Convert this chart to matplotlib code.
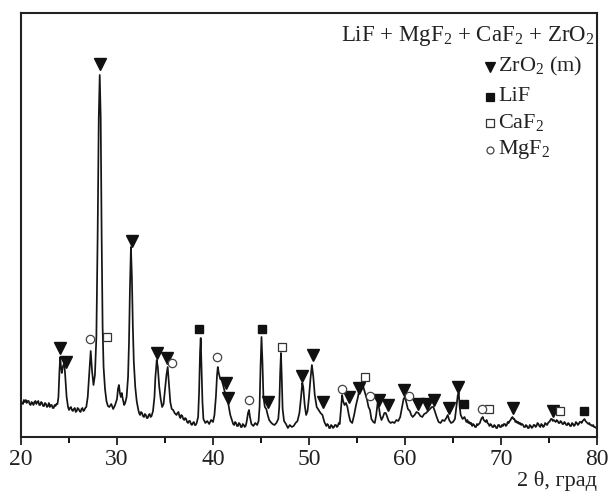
import numpy as np
import matplotlib
matplotlib.use("Agg")
import matplotlib.pyplot as plt

plt.rcParams['font.family'] = ['Liberation Serif', 'DejaVu Serif']
plt.rcParams['mathtext.fontset'] = 'custom'
plt.rcParams['mathtext.rm'] = 'Liberation Serif'
plt.rcParams['mathtext.it'] = 'Liberation Serif:italic'

# diffraction pattern, 2theta (deg) vs intensity (a.u.)
two_theta = [
    20.0, 20.1, 20.2, 20.3, 20.4, 20.5, 20.6, 20.7, 20.8, 20.9, 21.0, 21.1, 21.2,
    21.3, 21.4, 21.5, 21.6, 21.7, 21.8, 21.9, 22.0, 22.1, 22.2, 22.3, 22.4, 22.5,
    22.6, 22.7, 22.8, 22.9, 23.0, 23.1, 23.2, 23.3, 23.4, 23.5, 23.6, 23.7, 23.8,
    23.9, 24.0, 24.08, 24.15, 24.25, 24.35, 24.5, 24.6, 24.75, 24.9,
    25.0, 25.1, 25.2, 25.3, 25.4, 25.5, 25.6, 25.7, 25.8, 25.9, 26.0, 26.1, 26.2,
    26.3, 26.4, 26.5, 26.6, 26.7, 26.8,
    26.95, 27.1, 27.26, 27.4, 27.55, 27.7, 27.85, 27.98, 28.1, 28.2, 28.3, 28.4, 28.5, 28.6,
    28.75, 28.9, 29.05,
    29.2, 29.4, 29.6, 29.8, 30.0, 30.1, 30.2, 30.3, 30.4, 30.5, 30.6, 30.75, 30.85,
    31.0, 31.15, 31.25, 31.35, 31.45, 31.55, 31.65, 31.75, 31.9, 32.05,
    32.2, 32.3, 32.4, 32.5, 32.6, 32.7, 32.8, 32.9, 33.0, 33.1, 33.2, 33.3, 33.4, 33.5, 33.6,
    33.75, 33.9, 34.0, 34.14, 34.25, 34.4, 34.55, 34.7, 34.85, 35.0, 35.15, 35.28, 35.4,
    35.55, 35.7, 35.85,
    36.0, 36.1, 36.2, 36.3, 36.4, 36.5, 36.6, 36.7, 36.8, 36.9, 37.0, 37.1, 37.2,
    37.3, 37.4, 37.5, 37.6, 37.7, 37.8, 37.9, 38.0, 38.1, 38.2, 38.3,
    38.45, 38.55, 38.65, 38.72, 38.8, 38.9, 39.0, 39.2, 39.4, 39.6, 39.8, 40.0, 40.15,
    40.3, 40.42, 40.5, 40.6, 40.75, 40.9, 41.05, 41.2, 41.35, 41.5, 41.65, 41.8,
    42.0, 42.1, 42.2, 42.3, 42.4, 42.5, 42.6, 42.7, 42.8, 42.9, 43.0, 43.1, 43.2,
    43.3, 43.4, 43.5,
    43.65, 43.75, 43.85, 44.0, 44.2, 44.4, 44.6, 44.75, 44.85,
    44.95, 45.05, 45.15, 45.25, 45.4, 45.55, 45.7, 45.85, 46.0, 46.2, 46.4, 46.6, 46.8,
    46.9, 47.0, 47.08, 47.16, 47.25, 47.4, 47.6, 47.8, 48.0, 48.2, 48.4, 48.6, 48.8, 49.0,
    49.15, 49.3, 49.4, 49.55, 49.7, 49.85, 50.0, 50.15, 50.3, 50.45, 50.6, 50.8, 51.0,
    51.2, 51.4,
    51.6, 51.7, 51.8, 51.9, 52.0, 52.1, 52.2, 52.3, 52.4, 52.5, 52.6, 52.7, 52.8,
    52.9, 53.0, 53.1, 53.2,
    53.35, 53.45, 53.55, 53.7, 53.85, 54.0, 54.15, 54.3, 54.5, 54.7, 54.9, 55.1, 55.3,
    55.45, 55.6, 55.75, 55.9, 56.05, 56.2, 56.35, 56.5, 56.7, 56.85, 57.0, 57.15, 57.25,
    57.4, 57.55, 57.7, 57.85, 58.0, 58.15, 58.3, 58.5, 58.7, 58.9, 59.1, 59.3, 59.5,
    59.7, 59.85, 60.0, 60.15, 60.3, 60.5, 60.65, 60.8, 61.0, 61.2, 61.4, 61.6, 61.8,
    62.0, 62.2, 62.4, 62.6, 62.8, 62.95, 63.1, 63.3, 63.5, 63.7, 63.9, 64.1, 64.3, 64.45,
    64.6, 64.8, 65.0, 65.2, 65.35, 65.5, 65.6, 65.7, 65.8, 66.0, 66.2,
    66.4, 66.5, 66.6, 66.7, 66.8, 66.9, 67.0, 67.1, 67.2, 67.3, 67.4, 67.5, 67.6,
    67.7, 67.8, 67.9, 68.0, 68.1, 68.2, 68.3, 68.4, 68.5, 68.6, 68.7, 68.8, 68.9,
    69.0, 69.1, 69.2, 69.3, 69.4, 69.5, 69.6, 69.7, 69.8, 69.9, 70.0, 70.1, 70.2,
    70.3, 70.4, 70.5, 70.6, 70.7, 70.8, 70.9, 71.0, 71.1, 71.2, 71.3, 71.4, 71.5,
    71.6, 71.7, 71.8, 71.9, 72.0, 72.1, 72.2, 72.3, 72.4, 72.5, 72.6, 72.7, 72.8,
    72.9, 73.0, 73.1, 73.2, 73.3, 73.4, 73.5, 73.6, 73.7, 73.8, 73.9, 74.0, 74.1,
    74.2, 74.3, 74.4, 74.5, 74.6, 74.7, 74.8, 74.9, 75.0, 75.1, 75.2, 75.3, 75.4,
    75.5, 75.6, 75.7, 75.8, 75.9, 76.0, 76.1, 76.2, 76.3, 76.4, 76.5, 76.6, 76.7,
    76.8, 76.9, 77.0, 77.1, 77.2, 77.3, 77.4, 77.5, 77.6, 77.7, 77.8, 77.9, 78.0,
    78.1, 78.2, 78.3, 78.4, 78.5, 78.6, 78.7, 78.8, 78.9, 79.0, 79.1, 79.2, 79.3,
    79.4, 79.5, 79.6, 79.7, 79.8, 79.9, 80.0,
]
intensity = [
    36, 34, 33, 37, 35, 37, 34, 36, 36, 33, 32, 35, 34,
    32, 35, 36, 33, 35, 36, 32, 32, 35, 34, 31, 31, 34,
    33, 30, 31, 34, 30, 32, 32, 29, 29, 32, 31, 33, 33,
    40, 65, 80, 72, 64, 70, 74, 62, 40, 30,
    27, 29, 30, 27, 26, 28, 29, 25, 26, 29, 28, 26, 25,
    28, 29, 26, 27, 29, 30,
    40, 62, 86, 66, 52, 62, 100, 200, 320, 362, 320, 200, 110, 70,
    48, 36, 31,
    30, 33, 28, 32, 38, 48, 52, 44, 40, 44, 38, 32, 34,
    40, 60, 95, 150, 190, 160, 110, 75, 50, 36,
    28, 24, 22, 25, 24, 21, 20, 23, 22, 19, 19, 22, 23, 20, 21,
    26, 40, 60, 77, 70, 50, 38, 30, 33, 48, 62, 70, 55,
    35, 28, 27,
    24, 23, 22, 24, 25, 21, 19, 22, 21, 18, 17, 19, 18,
    15, 14, 16, 16, 13, 12, 14, 15, 12, 12, 14,
    20, 45, 85, 99, 70, 35, 18, 14, 16, 13, 17, 15, 22,
    40, 62, 70, 64, 58, 57, 52, 46, 42, 40, 30, 22,
    16, 13, 12, 15, 14, 11, 11, 14, 13, 10, 10, 13, 12,
    10, 11, 15,
    24, 27, 20, 13, 11, 14, 12, 16, 30,
    70, 100, 75, 40, 30, 28, 22, 17, 15, 13, 12, 14, 18,
    30, 65, 84, 60, 28, 16, 13, 9, 12, 10, 11, 14, 16, 24,
    38, 54, 50, 32, 22, 26, 40, 58, 72, 60, 42, 30, 27,
    24, 22,
    15, 13, 11, 13, 12, 9, 9, 12, 11, 9, 10, 12, 12,
    10, 11, 14, 13,
    30, 42, 36, 32, 34, 30, 22, 16, 14, 22, 32, 40, 52,
    50, 52, 47, 42, 37, 30, 27, 18, 15, 14, 22, 34, 32,
    22, 17, 20, 24, 24, 20, 16, 14, 15, 14, 17, 16, 20,
    30, 38, 40, 34, 28, 26, 22, 20, 22, 25, 24, 21, 20,
    23, 24, 26, 28, 30, 30, 26, 20, 15, 14, 17, 16, 19, 22,
    17, 14, 15, 18, 30, 42, 44, 30, 22, 18, 20,
    15, 17, 14, 15, 13, 14, 11, 13, 12, 10, 10, 13, 12,
    13, 14, 17, 19, 20, 17, 16, 15, 17, 14, 13, 11, 13,
    12, 10, 10, 12, 11, 9, 9, 12, 12, 10, 10, 12, 11,
    13, 13, 11, 12, 15, 14, 16, 17, 19, 20, 18, 18, 15,
    16, 14, 15, 13, 14, 12, 13, 12, 10, 10, 12, 11, 9,
    9, 12, 11, 9, 10, 12, 12, 10, 11, 14, 13, 11, 10,
    13, 12, 10, 11, 14, 13, 12, 14, 15, 16, 18, 18, 16,
    17, 16, 15, 17, 16, 14, 14, 16, 15, 13, 13, 15, 14,
    12, 12, 14, 13, 11, 11, 14, 13, 11, 12, 15, 14, 12,
    13, 15, 15, 14, 16, 17, 18, 16, 15, 14, 13, 14, 12,
    12, 11, 12, 10, 10, 9, 9,
]

# phase reflections: angle and marker height
zro2_pos = [24.06, 24.69, 28.23, 31.56, 34.14, 35.18, 41.32, 41.6, 45.7, 49.24, 50.45,
            51.43, 54.2, 55.24, 57.29, 58.2, 59.9, 61.39, 62.26, 63.02, 64.6, 65.55,
            71.22, 75.45]
zro2_h = [89, 75, 373, 196, 84, 79, 54, 39, 35, 61, 82,
          35, 40, 49, 37, 32, 47, 33, 33, 37, 29, 50,
          29, 26]
lif_pos = [38.54, 45.07, 66.15, 78.68]
lif_h = [108, 108, 33, 26]
caf2_pos = [28.93, 47.16, 55.88, 68.75, 76.15]
caf2_h = [100, 90, 60, 28, 26]
mgf2_pos = [27.19, 35.76, 40.42, 43.75, 53.47, 56.35, 60.45, 68.0]
mgf2_h = [98, 74, 80, 37, 48, 41, 41, 28]

fig = plt.figure(figsize=(6.09, 4.93), dpi=100)
ax = fig.add_axes([0.0345, 0.1136, 0.9458, 0.86])

ax.plot(two_theta, intensity, color='#151515', lw=1.25)

ax.plot(zro2_pos, zro2_h, 'v', color='#111111', ms=8, ls='none')
ax.plot(lif_pos, lif_h, 's', color='#111111', ms=5.5, ls='none')
ax.plot(caf2_pos, caf2_h, 's', mfc='white', mec='#333333', mew=0.9, ms=5.5, ls='none')
ax.plot(mgf2_pos, mgf2_h, 'o', mfc='white', mec='#444444', mew=0.9, ms=6, ls='none')

ax.set_xlim(20, 80)
ax.set_ylim(0, 424)
ax.set_xticks([20, 30, 40, 50, 60, 70, 80])
ax.set_xticks([25, 35, 45, 55, 65, 75], minor=True)
ax.set_yticks([])
ax.tick_params(axis='x', which='major', direction='out', length=6, width=1.3,
               labelsize=17, pad=3, colors='#222222')
ax.tick_params(axis='x', which='minor', direction='out', length=4, width=1.3)
for s in ax.spines.values():
    s.set_linewidth(1.5)
    s.set_color('#222222')

ax.text(0.995, 0.975, r'LiF + MgF$_2$ + CaF$_2$ + ZrO$_2$', transform=ax.transAxes,
        ha='right', va='top', fontsize=16.5, color='#222222')

# phase key
key = [('v', '#111111', '#111111', 7, r'ZrO$_2$ (m)', 0.873),
       ('s', '#111111', '#111111', 5.5, 'LiF', 0.802),
       ('s', 'white', '#333333', 5.5, r'CaF$_2$', 0.741),
       ('o', 'white', '#444444', 5, r'MgF$_2$', 0.677)]
for mk, fc, ec, ms, label, y in key:
    ax.plot([0.815], [y], mk, mfc=fc, mec=ec, ms=ms, mew=0.9,
            transform=ax.transAxes, clip_on=False)
    ax.text(0.828, y, label, transform=ax.transAxes, ha='left', va='center',
            fontsize=16, color='#222222')

fig.text(0.98, 0.005, '2 θ, град', ha='right', va='bottom', fontsize=16, color='#222222')

fig.savefig('out.png', dpi=100)
